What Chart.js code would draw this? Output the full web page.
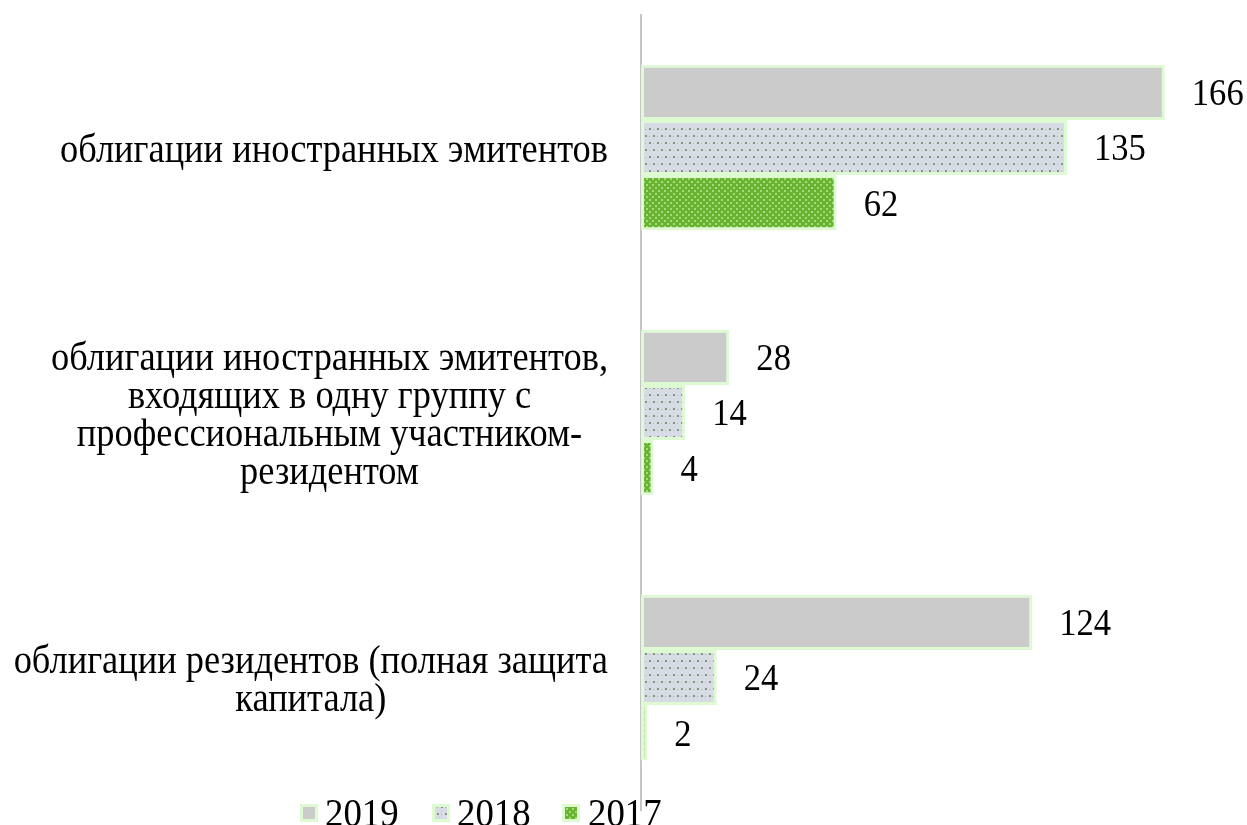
<!DOCTYPE html>
<html>
<head>
<meta charset="utf-8">
<script src="https://cdn.jsdelivr.net/npm/chart.js@4/dist/chart.umd.min.js"></script>
<style>
  html, body { margin: 0; padding: 0; background: #fff; overflow: hidden; }
  #wrap { position: relative; width: 1247px; height: 825px; overflow: hidden; }
  #chart { position: absolute; left: 0; top: 0; }
  .lg-box { position: absolute; top: 804px; }
  .lg-text {
    position: absolute; top: 793px; line-height: 40px;
    font-family: "Liberation Serif", "Times New Roman", serif; font-size: 40px; color: #000;
    transform: scaleX(0.92); transform-origin: left center; white-space: nowrap;
  }
</style>
</head>
<body>
<div id="wrap">
  <canvas id="chart" width="1247" height="825"></canvas>
</div>
<script>
// categories (each entry is a list of lines, as in the original)
const categories = [
  ['облигации иностранных эмитентов'],
  ['облигации иностранных эмитентов,', 'входящих в одну группу с', 'профессиональным участником-', 'резидентом'],
  ['облигации резидентов (полная защита', 'капитала)']
];
const years = ['2019', '2018', '2017'];
const values2019 = [166, 28, 124];
const values2018 = [135, 14, 24];
const values2017 = [62, 4, 2];

const FONT = '"Liberation Serif", "Times New Roman", serif';
const edge = '#ddfad3';
const SX = 0.91; // the original text is a bit narrow

// small tiled fills for the patterned bars
function makePattern(kind) {
  const c = document.createElement('canvas');
  const ctx = c.getContext('2d');
  if (kind === 'grey') {
    c.width = c.height = 4;
    ctx.fillStyle = '#cbcbcb';
    ctx.fillRect(0, 0, 4, 4);
  } else if (kind === 'dots') {
    c.width = 8; c.height = 14;
    ctx.fillStyle = '#d7dce4';
    ctx.fillRect(0, 0, 8, 14);
    ctx.fillStyle = '#7f9877';
    ctx.fillRect(1, 2, 2, 2);
    ctx.fillRect(5, 9, 2, 2);
    ctx.fillStyle = '#a8b8a4';
    ctx.fillRect(5, 3, 1, 1);
    ctx.fillRect(1, 10, 1, 1);
  } else {
    c.width = 6; c.height = 6;
    ctx.fillStyle = '#68b331';
    ctx.fillRect(0, 0, 6, 6);
    ctx.fillStyle = '#a5dc79';
    ctx.fillRect(1, 1, 2, 2);
    ctx.fillRect(4, 4, 2, 2);
  }
  return c;
}
const kinds = ['grey', 'dots', 'green'];
const ctx = document.getElementById('chart').getContext('2d');
const fills = kinds.map(k => ctx.createPattern(makePattern(k), 'repeat'));

// data labels at the end of each bar
const valueLabels = {
  id: 'valueLabels',
  afterDatasetsDraw(chart) {
    const c = chart.ctx;
    c.save();
    c.font = '38px ' + FONT;
    c.fillStyle = '#000';
    c.textBaseline = 'middle';
    c.textAlign = 'left';
    chart.data.datasets.forEach((ds, di) => {
      chart.getDatasetMeta(di).data.forEach((bar, i) => {
        c.save();
        c.translate(bar.x + 27, bar.y + 3);
        c.scale(SX, 1);
        c.fillText(String(ds.data[i]), 0, 0);
        c.restore();
      });
    });
    c.restore();
  }
};

// category labels: block right-aligned, lines centred inside the block
const catLabels = {
  id: 'catLabels',
  afterDraw(chart) {
    const c = chart.ctx;
    const y = chart.scales.y;
    c.save();
    c.font = '40px ' + FONT;
    c.fillStyle = '#000';
    c.textAlign = 'center';
    c.textBaseline = 'middle';
    const lh = 38.3;
    const right = 608;
    categories.forEach((lines, i) => {
      const w = Math.max(...lines.map(l => c.measureText(l).width)) * SX;
      const cx = right - w / 2;
      const cy = y.getPixelForTick(i) + 4;
      lines.forEach((l, k) => {
        c.save();
        c.translate(cx, cy + (k - (lines.length - 1) / 2) * lh);
        c.scale(SX, 1);
        c.fillText(l, 0, 0);
        c.restore();
      });
    });
    c.restore();
  }
};

new Chart(ctx, {
  type: 'bar',
  data: {
    labels: categories,
    datasets: [
      { label: years[0], data: values2019, backgroundColor: fills[0] },
      { label: years[1], data: values2018, backgroundColor: fills[1] },
      { label: years[2], data: values2017, backgroundColor: fills[2] }
    ].map(d => Object.assign(d, {
      borderColor: edge, borderWidth: 3, borderSkipped: false,
      categoryPercentage: 0.625, barPercentage: 1.0
    }))
  },
  options: {
    indexAxis: 'y',
    responsive: false,
    animation: false,
    layout: { padding: { top: 15, bottom: 15, right: 38, left: 0 } },
    plugins: { legend: { display: false }, tooltip: { enabled: false } },
    scales: {
      x: { display: false, min: 0, max: 180 },
      y: {
        grid: { display: false },
        border: { display: true, color: '#c6c6c6', width: 2 },
        ticks: { display: false },
        afterFit(scale) { scale.width = 641; }
      }
    }
  },
  plugins: [valueLabels, catLabels]
});

// legend
const wrap = document.getElementById('wrap');
const boxX = [300, 432, 562];
const textX = [325, 457, 588];
years.forEach((yr, i) => {
  const sw = document.createElement('canvas');
  sw.className = 'lg-box';
  sw.style.left = boxX[i] + 'px';
  sw.width = 18; sw.height = 18;
  const sctx = sw.getContext('2d');
  sctx.fillStyle = edge;
  sctx.fillRect(0, 0, 18, 18);
  sctx.fillStyle = sctx.createPattern(makePattern(kinds[i]), 'repeat');
  sctx.fillRect(3, 3, 12, 12);
  wrap.appendChild(sw);
  const t = document.createElement('span');
  t.className = 'lg-text';
  t.style.left = textX[i] + 'px';
  t.textContent = yr;
  wrap.appendChild(t);
});
</script>
</body>
</html>
